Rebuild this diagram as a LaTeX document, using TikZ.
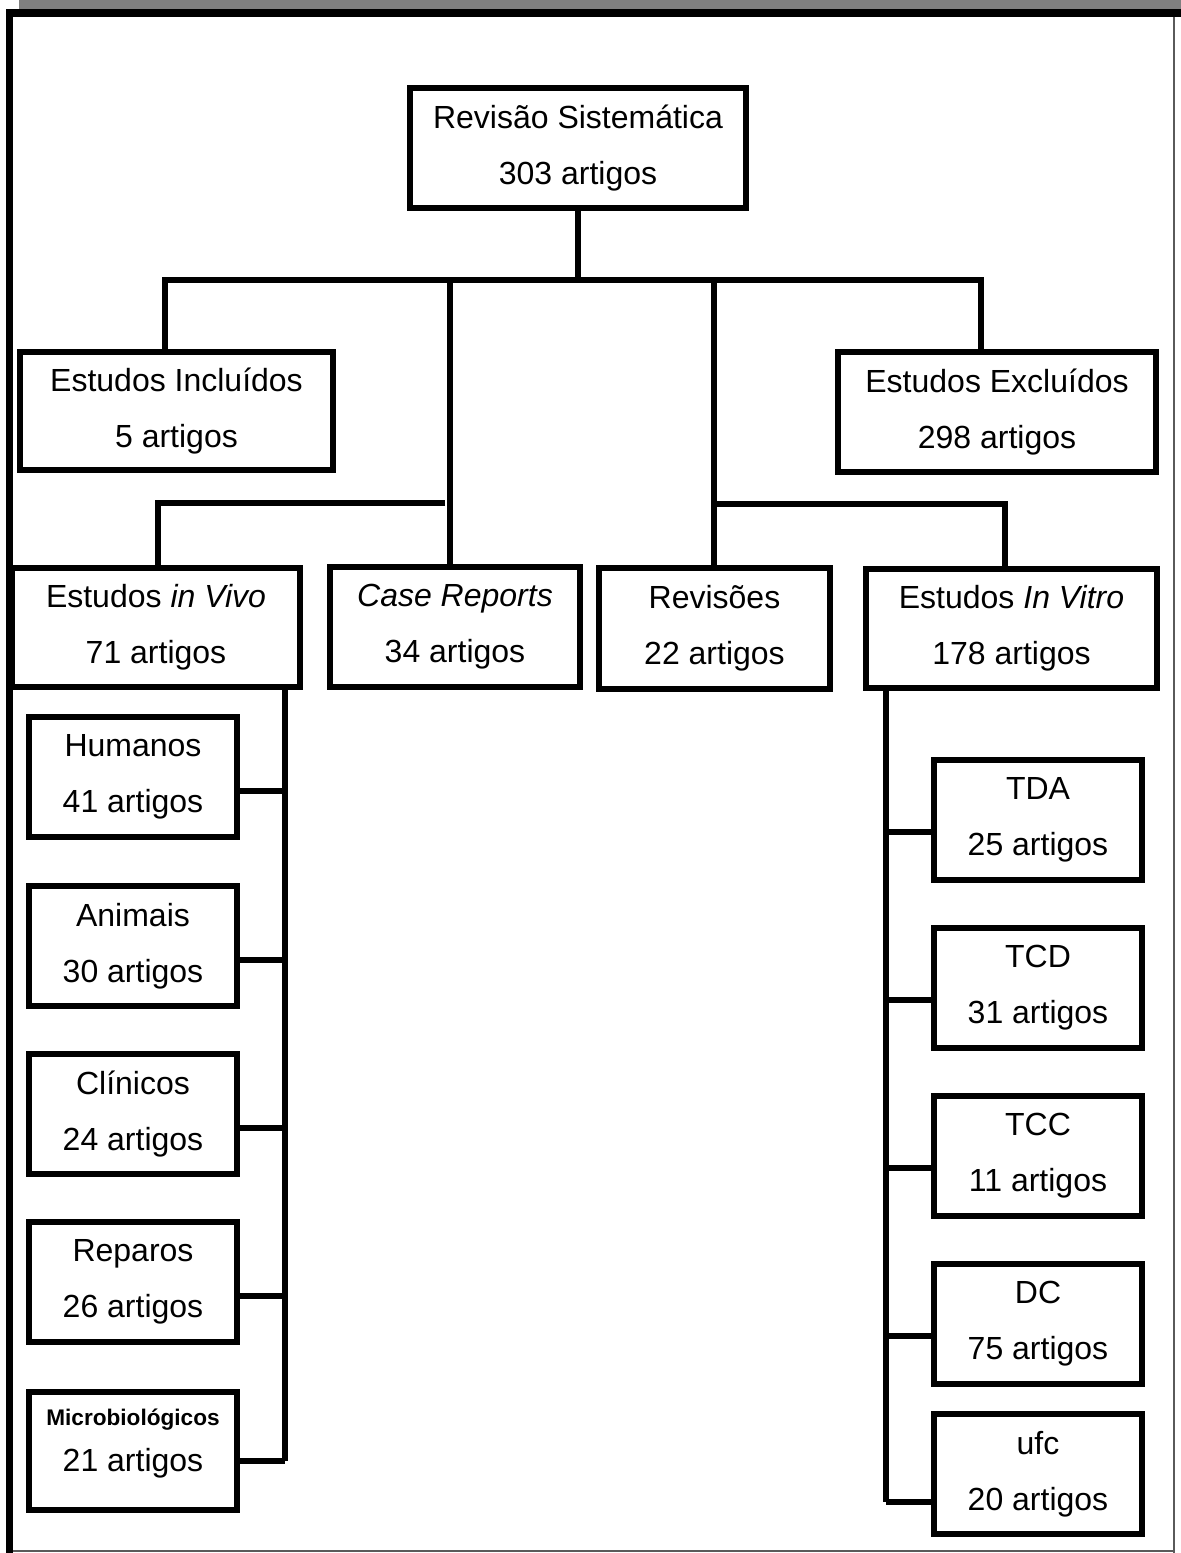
\documentclass[tikz,border=0pt]{standalone}
\usepackage{fontspec}
\setmainfont{Liberation Sans}
\definecolor{band}{RGB}{128,128,128}
\definecolor{thinframe}{RGB}{90,90,90}
\newcommand\bx[6]{\node[box, minimum width={(#4-#2)*0.5pt}, minimum height={(#5-#3)*0.5pt}] (#1) at ({(#2+#4)/2},{(#3+#5)/2}) {#6};}
\begin{document}
\begin{tikzpicture}[x=0.5pt,y=-0.5pt,
  box/.style={draw, line width=3pt, inner sep=0pt, align=center, fill=white,
    font=\fontsize{16}{28}\selectfont},
  con/.style={line width=2.8pt}]
\useasboundingbox (0,0) rectangle (1181,1553);
% frame
\fill[band] (19,0) rectangle (1181,9);
\fill[black] (6,9) rectangle (1181,17);
\fill[black] (6,9) rectangle (13,1553);
\draw[thinframe, line width=1pt] (1174,17) -- (1174,1553);
\draw[thinframe, line width=1pt] (13,1551) -- (1174,1551);
% boxes
\bx{rs}{410}{88}{746}{208}{Revisão Sistemática\\303 artigos}
\bx{incl}{20}{352}{333}{470}{Estudos Incluídos\\5 artigos}
\bx{excl}{838}{352}{1156}{472}{Estudos Excluídos\\298 artigos}
\bx{vivo}{12}{568}{300}{687}{Estudos \textit{in Vivo}\\71 artigos}
\bx{case}{330}{567}{580}{687}{\textit{Case Reports}\\34 artigos}
\bx{rev}{599}{568}{830}{689}{Revisões\\22 artigos}
\bx{vitro}{866}{569}{1157}{688}{Estudos \textit{In Vitro}\\178 artigos}
\bx{hum}{29}{717}{237}{837}{Humanos\\41 artigos}
\bx{ani}{29}{886}{237}{1006}{Animais\\30 artigos}
\bx{cli}{29}{1054}{237}{1174}{Clínicos\\24 artigos}
\bx{rep}{29}{1222}{237}{1342}{Reparos\\26 artigos}
\bx{mic}{29}{1392}{237}{1510}{}
\node[align=center, inner sep=0pt, font=\fontsize{16}{28}\selectfont] (mict) at ([yshift=3.5pt]mic.center)
  {{\fontsize{11.3}{13}\selectfont\bfseries Microbiológicos}\\[-5pt]21 artigos};
\bx{tda}{934}{760}{1142}{880}{TDA\\25 artigos}
\bx{tcd}{934}{928}{1142}{1048}{TCD\\31 artigos}
\bx{tcc}{934}{1096}{1142}{1216}{TCC\\11 artigos}
\bx{dc}{934}{1264}{1142}{1384}{DC\\75 artigos}
\bx{ufc}{934}{1414}{1142}{1534}{ufc\\20 artigos}
% junction coordinates
\coordinate (jL) at (165,280);
\coordinate (jR) at (981,280);
\coordinate (jC) at (450,280);
\coordinate (jV) at (714,280);
\coordinate (kL) at (445,503);
\coordinate (kV) at (158,503);
\coordinate (kR) at (1005,504);
\coordinate (sL) at (285,1461);
\coordinate (sR) at (886,1502);
% connectors
\draw[con] (rs.south) -- (rs.south |- jL);
\draw[con] (incl.north -| jL) -- (jL) -- (jR) -- (excl.north -| jR);
\draw[con] (jC) -- (case.north -| jC);
\draw[con] (jV) -- (rev.north -| jV);
\draw[con] (kL) -- (kV) -- (vivo.north -| kV);
\draw[con] (jV |- kR) -- (kR) -- (vitro.north -| kR);
\draw[con] (vivo.south -| sL) -- (sL);
\draw[con] ([yshift=-7pt]hum.east) -- ([yshift=-7pt]hum.east -| sL);
\draw[con] ([yshift=-7pt]ani.east) -- ([yshift=-7pt]ani.east -| sL);
\draw[con] ([yshift=-7pt]cli.east) -- ([yshift=-7pt]cli.east -| sL);
\draw[con] ([yshift=-7pt]rep.east) -- ([yshift=-7pt]rep.east -| sL);
\draw[con] (mic.east |- sL) -- (sL);
\draw[con] (vitro.south -| sR) -- (sR);
\draw[con] ([yshift=-6pt]tda.west) -- ([yshift=-6pt]tda.west -| sR);
\draw[con] ([yshift=-6pt]tcd.west) -- ([yshift=-6pt]tcd.west -| sR);
\draw[con] ([yshift=-6pt]tcc.west) -- ([yshift=-6pt]tcc.west -| sR);
\draw[con] ([yshift=-6pt]dc.west) -- ([yshift=-6pt]dc.west -| sR);
\draw[con] (ufc.west |- sR) -- (sR);
\end{tikzpicture}
\end{document}
